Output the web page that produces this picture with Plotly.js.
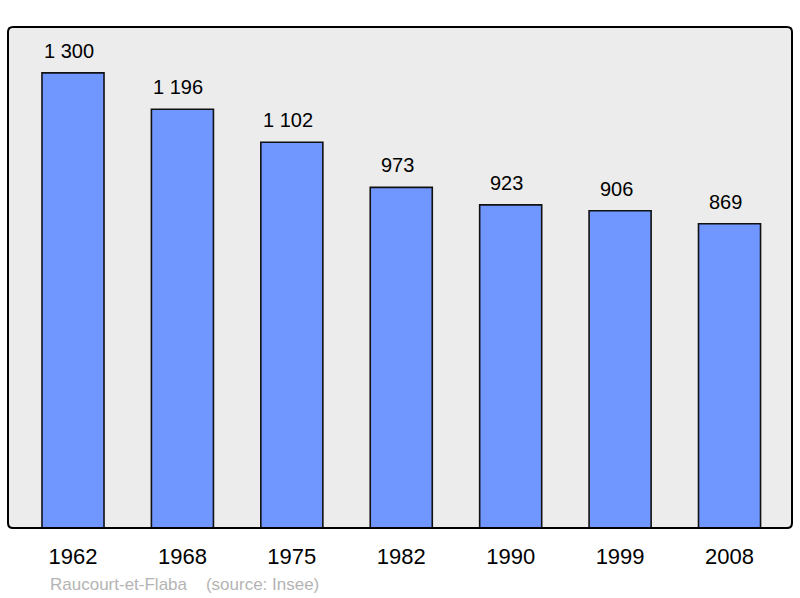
<!DOCTYPE html>
<html>
<head>
<meta charset="utf-8">
<script src="https://cdn.plot.ly/plotly-3.0.1.min.js"></script>
<style>html,body{margin:0;padding:0;background:#fff;}#chart{width:800px;height:598px;}</style>
</head>
<body>
<div id="chart"></div>
<script>
const years = ['1962', '1968', '1975', '1982', '1990', '1999', '2008'];
const population = [1300, 1196, 1102, 973, 923, 906, 869];
const sourceText = 'Raucourt-et-Flaba    (source: Insee)';

function fmt(v) {
  return String(v).replace(/\B(?=(\d{3})+(?!\d))/g, ' ');
}
const xs = years.map((_, i) => i);

const trace = {
  type: 'bar',
  x: xs,
  y: population,
  width: 0.567,
  marker: {color: 'rgb(112,150,255)', line: {color: '#111', width: 1.6}},
  hoverinfo: 'none'
};

const annotations = population.map((v, i) => ({
  x: i, y: v, xref: 'x', yref: 'y',
  text: fmt(v), showarrow: false,
  yanchor: 'bottom', yshift: 9, xshift: -4,
  font: {family: 'Liberation Sans, Arial, sans-serif', size: 20, color: '#000'}
}));
annotations.push({
  xref: 'paper', yref: 'paper', x: 0.0505, y: -0.112,
  xanchor: 'left', yanchor: 'middle', showarrow: false,
  text: sourceText.replace(/ /g, '&nbsp;'),
  font: {family: 'Liberation Sans, Arial, sans-serif', size: 17, color: '#b4b4b4'}
});

const rx = 5 / 784, ry = 5 / 501;
const borderPath = `M ${rx} 0 L ${1 - rx} 0 Q 1 0 1 ${ry} L 1 ${1 - ry} Q 1 1 ${1 - rx} 1 L ${rx} 1 Q 0 1 0 ${1 - ry} L 0 ${ry} Q 0 0 ${rx} 0 Z`;

const layout = {
  width: 800, height: 598,
  margin: {l: 8, r: 8, t: 27, b: 70, pad: 0},
  paper_bgcolor: '#fff',
  plot_bgcolor: '#ececec',
  showlegend: false,
  xaxis: {
    range: [-0.594, 6.571],
    tickvals: xs, ticktext: years,
    ticks: '', showgrid: false, zeroline: false, showline: false,
    ticklabelstandoff: 13,
    tickfont: {family: 'Liberation Sans, Arial, sans-serif', size: 22, color: '#000'},
    fixedrange: true
  },
  yaxis: {
    range: [0, 1431],
    showticklabels: false, ticks: '', showgrid: false, zeroline: false, showline: false,
    fixedrange: true
  },
  shapes: [{
    type: 'path', xref: 'paper', yref: 'paper', path: borderPath,
    line: {color: '#000', width: 2}, fillcolor: 'rgba(0,0,0,0)', layer: 'above'
  }],
  annotations: annotations
};

Plotly.newPlot('chart', [trace], layout, {displayModeBar: false, staticPlot: true});
</script>
</body>
</html>
